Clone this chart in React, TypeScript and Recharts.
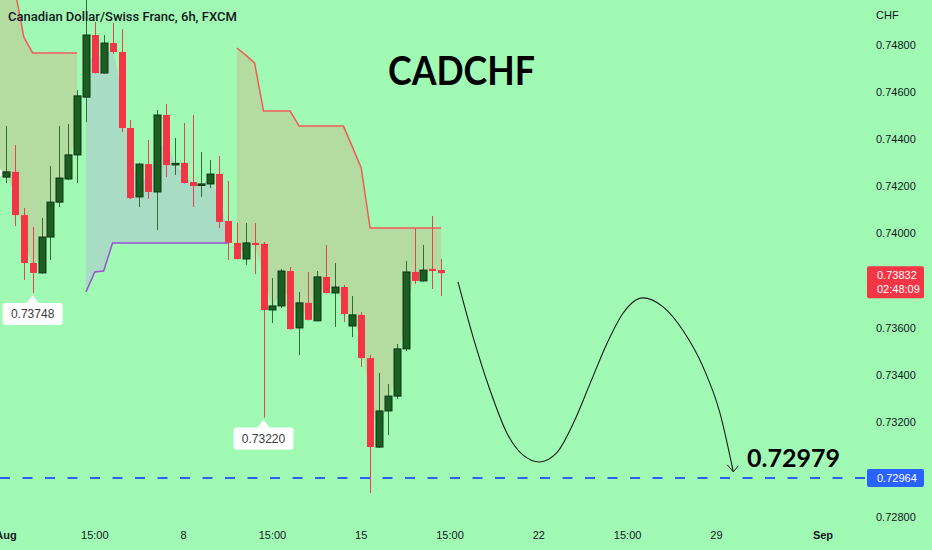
import React from 'react';
import { ComposedChart, Bar, Line, Area, XAxis, YAxis, ReferenceLine, ReferenceDot } from 'recharts';

// 6h candles, bar index -1..49 (index 0 = Aug 1, 00:00)
const BAR_INDEX = Array.from({ length: 51 }, (_, k) => k - 1);

const OPEN = [
  0.74269, 0.74239, 0.74261, 0.74078, 0.73875, 0.73833, 0.73985, 0.74133, 0.74231, 0.74333,
  0.74578, 0.74841, 0.74680, 0.74807, 0.74769, 0.74447, 0.74155, 0.74294, 0.74176, 0.74502,
  0.74292, 0.74299, 0.74218, 0.74208, 0.74210, 0.74252, 0.74053, 0.73960, 0.73892, 0.73960,
  0.73956, 0.73676, 0.73693, 0.73841, 0.73600, 0.73706, 0.73630, 0.73816, 0.73748, 0.73773,
  0.73608, 0.73655, 0.73472, 0.73095, 0.73248, 0.73311, 0.73511, 0.73837, 0.73799, 0.73850,
  0.73845,
];
const HIGH = [
  0.74286, 0.74455, 0.74375, 0.74108, 0.74028, 0.74066, 0.74286, 0.74455, 0.74464, 0.74608,
  0.75000, 0.74896, 0.74841, 0.74892, 0.74866, 0.74481, 0.74299, 0.74396, 0.74523, 0.74549,
  0.74405, 0.74468, 0.74502, 0.74345, 0.74311, 0.74328, 0.74222, 0.74044, 0.74044, 0.74044,
  0.73964, 0.73811, 0.73850, 0.73858, 0.73752, 0.73837, 0.73841, 0.73951, 0.73875, 0.73782,
  0.73735, 0.73667, 0.73485, 0.73409, 0.73362, 0.73532, 0.73883, 0.74023, 0.73951, 0.74074,
  0.73892,
];
const LOW = [
  0.74227, 0.74214, 0.74032, 0.73803, 0.73748, 0.73830, 0.73888, 0.74112, 0.74227, 0.74214,
  0.74472, 0.74678, 0.74678, 0.74761, 0.74430, 0.74146, 0.74112, 0.74146, 0.74015, 0.74239,
  0.74248, 0.74212, 0.74112, 0.74155, 0.74193, 0.74023, 0.73888, 0.73890, 0.73867, 0.73828,
  0.73220, 0.73621, 0.73684, 0.73593, 0.73485, 0.73632, 0.73628, 0.73746, 0.73604, 0.73625,
  0.73561, 0.73434, 0.72900, 0.73091, 0.73146, 0.73299, 0.73502, 0.73786, 0.73797, 0.73765,
  0.73735,
];
const CLOSE = [
  0.74244, 0.74261, 0.74078, 0.73875, 0.73833, 0.73985, 0.74133, 0.74235, 0.74333, 0.74583,
  0.74841, 0.74680, 0.74807, 0.74769, 0.74447, 0.74150, 0.74294, 0.74176, 0.74502, 0.74290,
  0.74297, 0.74214, 0.74201, 0.74210, 0.74252, 0.74049, 0.73960, 0.73892, 0.73960, 0.73951,
  0.73676, 0.73693, 0.73841, 0.73595, 0.73706, 0.73634, 0.73816, 0.73748, 0.73773, 0.73659,
  0.73655, 0.73472, 0.73095, 0.73248, 0.73311, 0.73511, 0.73837, 0.73799, 0.73845, 0.73841,
  0.73832,
];

// Supertrend: upper (down trend) and lower (up trend) lines
const TREND_UPPER = [
  0.7515, 0.7512, 0.75034, 0.74833, 0.74765, 0.74765, 0.74765, 0.74765, 0.74765, 0.74765,
  null, null, null, null, null, null, null, null, null, null, null, null, null, null, null, null, null,
  0.74786, 0.74756, 0.74722, 0.74519, 0.74519, 0.74519, 0.74519, 0.74455, 0.74455, 0.74455,
  0.74455, 0.74455, 0.74455, 0.74367, 0.74278, 0.74023, 0.74023, 0.74023, 0.74023, 0.74023,
  0.74023, 0.74023, 0.74023, 0.74023,
];
const TREND_LOWER = [
  null, null, null, null, null, null, null, null, null, null,
  0.73752, 0.73837, 0.73841, 0.73960, 0.73960, 0.73960, 0.73960, 0.73960, 0.73960, 0.73960,
  0.73960, 0.73960, 0.73960, 0.73960, 0.73960, 0.73960, 0.73960,
  null, null, null, null, null, null, null, null, null, null, null, null,
  null, null, null, null, null, null, null, null, null, null, null, null,
];

// hand drawn projection
const FORECAST_X = [50.9, 52.6, 54.5, 56.4, 58.2, 60.1, 62.0, 63.9, 65.8, 67.7, 69.5, 71.7, 74.0, 76.2, 78.5, 80.4, 81.9];
const FORECAST_PRICE = [
  0.73795, 0.73561, 0.73337, 0.73155, 0.73062, 0.73032, 0.73070, 0.73197, 0.73367, 0.73536,
  0.73663, 0.73727, 0.73689, 0.73591, 0.73434, 0.73239, 0.72990,
];

const TIME_TICKS = [0, 10, 20, 30, 40, 50, 60, 70, 80, 92];
const TIME_LABELS = ['Aug', '15:00', '8', '15:00', '15', '15:00', '22', '15:00', '29', 'Sep'];
const PRICE_TICKS = [0.728, 0.73, 0.732, 0.734, 0.736, 0.738, 0.74, 0.742, 0.744, 0.746, 0.748];

const LOW_MARK_INDEX = [3, 29];
const LOW_MARK_PRICE = [0.73748, 0.7322];
const LAST_PRICE = 0.73832;
const COUNTDOWN = '02:48:09';
const TARGET_LINE = 0.72964;
const TARGET_TEXT = '0.72979';

const BG = '#a0fab4';
const RED = '#f23645';
const GREEN = '#1b5e20';
const AXIS_FONT = '"Liberation Sans", Arial, sans-serif';

const rows = BAR_INDEX.map((i, k) => {
  const mid = (OPEN[k] + CLOSE[k]) / 2;
  return {
    i,
    open: OPEN[k],
    high: HIGH[k],
    low: LOW[k],
    close: CLOSE[k],
    range: [LOW[k], HIGH[k]],
    upper: TREND_UPPER[k],
    lower: TREND_LOWER[k],
    upperFill: TREND_UPPER[k] == null ? null : [mid, TREND_UPPER[k]],
    lowerFill: TREND_LOWER[k] == null ? null : [TREND_LOWER[k], mid],
  };
});

const forecast = FORECAST_X.map((x, k) => ({ i: x, p: FORECAST_PRICE[k] }));

const Candle = (props: any) => {
  const { x, y, width, height, payload } = props;
  if (x == null || !payload) return <g />;
  const { open, close, high, low } = payload;
  const cx = Math.round(x + width / 2) + 0.5;
  const k = height / (high - low);
  const yOf = (v: number) => y + (high - v) * k;
  const up = close >= open;
  const top = yOf(Math.max(open, close));
  const bot = yOf(Math.min(open, close));
  return (
    <g>
      <line x1={cx} x2={cx} y1={y} y2={y + height} stroke={up ? '#2f6f33' : '#e5434f'} strokeWidth={1} />
      <rect
        x={cx - 3.5}
        y={top}
        width={7}
        height={Math.max(bot - top, 1.5)}
        fill={up ? GREEN : RED}
        stroke={up ? '#0c3512' : RED}
        strokeWidth={up ? 1 : 0}
      />
    </g>
  );
};

const TimeTick = ({ x, y, payload }: any) => {
  const label = TIME_LABELS[TIME_TICKS.indexOf(payload.value)];
  const month = label === 'Aug' || label === 'Sep';
  return (
    <text x={x} y={y + 17} textAnchor="middle" fontSize={11} fontFamily={AXIS_FONT}
      fontWeight={month ? 700 : 400} fill="#131722">
      {label}
    </text>
  );
};

// price labels hidden behind the last-price and target tags are not drawn
const PriceTick = ({ x, y, payload }: any) => {
  const v = Number(payload.value);
  if (Math.abs(v - LAST_PRICE) < 0.0007 || Math.abs(v - TARGET_LINE) < 0.0005) return <g />;
  return (
    <text x={x + 11} y={y + 4} fontSize={11} fontFamily={AXIS_FONT} fill="#131722">
      {v.toFixed(5)}
    </text>
  );
};

const PriceTag = ({ viewBox, color, lines }: any) => {
  const { x, y, width } = viewBox;
  const left = x + width + 2;
  const two = lines.length > 1;
  const top = two ? y - 7 : y - 9;
  return (
    <g>
      <rect x={left} y={top} width={57} height={two ? 32 : 18} rx={2} fill={color} />
      {lines.map((t: string, k: number) => (
        <text key={k} x={left + 10} y={top + 13 + k * 14} fontSize={11} fontFamily={AXIS_FONT} fill="#ffffff">
          {t}
        </text>
      ))}
    </g>
  );
};

const LowCallout = ({ cx, cy, text }: any) => (
  <g>
    <path d={`M${cx - 6},${cy + 10} L${cx},${cy + 2} L${cx + 6},${cy + 10} Z`} fill="#ffffff" />
    <rect x={cx - 30} y={cy + 10} width={60} height={22} rx={3} fill="#ffffff" />
    <text x={cx} y={cy + 25} textAnchor="middle" fontSize={12} fontFamily={AXIS_FONT} fill="#3a3a3a">
      {text}
    </text>
  </g>
);

const ArrowDot = (props: any) => {
  const { cx, cy, index } = props;
  if (index !== FORECAST_X.length - 1) return <g key={index} />;
  return (
    <path key={index} d={`M${cx - 6},${cy - 7} L${cx},${cy} L${cx + 5},${cy - 6}`}
      fill="none" stroke="#1a1a1a" strokeWidth={1} />
  );
};

export default function App() {
  return (
    <div style={{ position: 'relative', width: 932, height: 550, background: BG, overflow: 'hidden' }}>
      <style>{'body{margin:0}'}</style>
      <ComposedChart width={932} height={550} data={rows} margin={{ top: 0, right: 0, bottom: 0, left: 0 }}>
        <XAxis
          dataKey="i"
          type="number"
          domain={[-0.676, 96.73]}
          ticks={TIME_TICKS}
          tick={<TimeTick />}
          axisLine={false}
          tickLine={false}
          tickSize={0}
          tickMargin={0}
          height={28}
          allowDataOverflow
        />
        <YAxis
          orientation="right"
          type="number"
          domain={[0.727775, 0.749894]}
          ticks={PRICE_TICKS}
          tick={<PriceTick />}
          axisLine={false}
          tickLine={false}
          tickSize={0}
          tickMargin={0}
          width={67}
          allowDataOverflow
        />
        <Area dataKey="upperFill" type="linear" stroke="none" fill="#b4dca0" fillOpacity={1} isAnimationActive={false} />
        <Area dataKey="lowerFill" type="linear" stroke="none" fill="#a8dcc4" fillOpacity={1} isAnimationActive={false} />
        <Line dataKey="upper" type="linear" stroke="#f25a5a" strokeWidth={1.5} dot={false} isAnimationActive={false} />
        <Line dataKey="lower" type="linear" stroke="#9b4fd6" strokeWidth={1.5} dot={false} isAnimationActive={false} />
        <ReferenceLine y={TARGET_LINE} stroke="#2962ff" strokeWidth={2} strokeDasharray="10 12.5"
          label={<PriceTag color="#2962ff" lines={[TARGET_LINE.toFixed(5)]} />} />
        <ReferenceLine y={LAST_PRICE} stroke="none"
          label={<PriceTag color={RED} lines={[LAST_PRICE.toFixed(5), COUNTDOWN]} />} />
        <Bar dataKey="range" barSize={7} shape={<Candle />} isAnimationActive={false} />
        <Line data={forecast} dataKey="p" type="monotone" stroke="#1a1a1a" strokeWidth={1.1}
          dot={<ArrowDot />} activeDot={false} isAnimationActive={false} />
        {LOW_MARK_INDEX.map((idx, k) => (
          <ReferenceDot key={k} x={idx} y={LOW_MARK_PRICE[k]} r={0}
            shape={(p: any) => <LowCallout cx={p.cx} cy={p.cy} text={LOW_MARK_PRICE[k].toFixed(5)} />} />
        ))}
      </ComposedChart>
      <svg width={932} height={550} style={{ position: 'absolute', left: 0, top: 0, pointerEvents: 'none' }}>
        <text x={8} y={21} fontSize={13} fontWeight={500} fontFamily="Roboto, sans-serif" fill="#131722">
          Canadian Dollar/Swiss Franc, 6h, FXCM
        </text>
        <text x={876} y={19} fontSize={11} fontFamily={AXIS_FONT} fill="#131722">CHF</text>
        <text x={388} y={85} fontSize={41} fontWeight={700} fontFamily="Lato, sans-serif" fill="#000000"
          textLength={147} lengthAdjust="spacingAndGlyphs">
          CADCHF
        </text>
        <text x={747} y={467} fontSize={24} fontWeight={700} fontFamily="Lato, sans-serif" fill="#000000"
          textLength={93} lengthAdjust="spacingAndGlyphs">
          {TARGET_TEXT}
        </text>
      </svg>
    </div>
  );
}
